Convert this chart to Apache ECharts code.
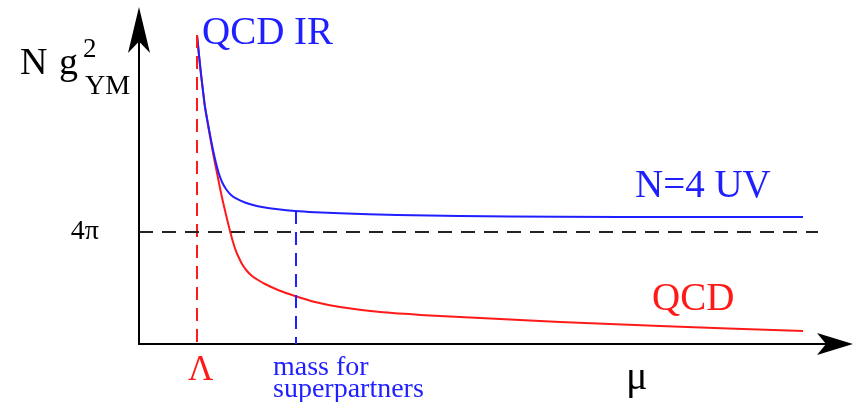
<!DOCTYPE html>
<html>
<head>
<meta charset="utf-8">
<script src="https://cdn.jsdelivr.net/npm/echarts@6/dist/echarts.min.js"></script>
<style>
  html, body { margin: 0; padding: 0; background: #ffffff; }
  #chart { width: 855px; height: 402px; }
</style>
</head>
<body>
<div id="chart"></div>
<script>
// Running coupling N g_YM^2 versus energy scale mu (arbitrary units).
const muN4 = [8.333, 8.621, 8.908, 9.195, 9.483, 9.914, 10.345, 10.632, 10.920, 11.207, 11.494, 11.925, 12.500, 13.218, 14.080, 15.230, 16.379, 17.672, 19.971, 22.414, 25.287, 28.879, 37.069, 46.121, 60.489, 77.730, 95.402];
const couplingN4 = [34.67, 32.42, 30.29, 28.39, 26.59, 24.68, 22.89, 21.77, 20.76, 19.86, 19.07, 18.18, 17.39, 16.72, 16.27, 15.88, 15.60, 15.37, 15.11, 14.92, 14.78, 14.66, 14.47, 14.36, 14.27, 14.25, 14.25];

const muQCD = [8.333, 8.621, 8.908, 9.195, 9.483, 9.914, 10.345, 10.776, 11.207, 11.638, 11.925, 12.356, 12.644, 13.075, 13.506, 13.937, 14.368, 14.799, 15.517, 16.236, 17.098, 18.103, 19.971, 22.414, 25.287, 28.879, 34.626, 41.810, 46.121, 60.489, 74.856, 95.402];
const couplingQCD = [34.67, 32.42, 30.29, 28.39, 26.59, 24.57, 22.66, 20.87, 19.19, 17.50, 16.44, 14.98, 14.02, 12.68, 11.44, 10.43, 9.65, 8.98, 8.19, 7.63, 7.18, 6.73, 6.06, 5.39, 4.71, 4.15, 3.59, 3.20, 3.03, 2.47, 2.02, 1.46];

const LAMBDA = 8.333;         // QCD scale
const M_SUSY = 22.56;         // mass for superpartners
const FOUR_PI = 4 * Math.PI;  // reference coupling
const FOUR_PI_END = 97.56;
const tickLabels = ['4π'];

const SERIF = "'Liberation Serif', 'DejaVu Serif', serif";
const BLUE = '#1f1fff';
const RED = '#ff1a1a';

const pairs = (xs, ys) => xs.map((x, i) => [x, ys[i]]);
const blueAt = (mu) => {
  for (let i = 1; i < muN4.length; i++) {
    if (mu <= muN4[i]) {
      const t = (mu - muN4[i - 1]) / (muN4[i] - muN4[i - 1]);
      return couplingN4[i - 1] + t * (couplingN4[i] - couplingN4[i - 1]);
    }
  }
  return couplingN4[couplingN4.length - 1];
};

const chart = echarts.init(document.getElementById('chart'), null, { renderer: 'canvas' });

const axisCommon = {
  type: 'value',
  min: 0,
  axisLabel: { show: false },
  axisTick: { show: false },
  splitLine: { show: false },
  axisLine: {
    show: true,
    symbol: ['none', 'arrow'],
    lineStyle: { color: '#000', width: 2 }
  }
};

chart.setOption({
  animation: false,
  backgroundColor: '#ffffff',
  grid: { left: 139, right: 20, top: 30, bottom: 58 },
  xAxis: Object.assign({}, axisCommon, {
    max: 100,
    axisLine: Object.assign({}, axisCommon.axisLine, { symbolSize: [16.5, 36], symbolOffset: [0, 18] })
  }),
  yAxis: Object.assign({}, axisCommon, {
    max: 35.23,
    axisLine: Object.assign({}, axisCommon.axisLine, { symbolSize: [16.5, 46], symbolOffset: [0, 23] })
  }),
  series: [
    {
      name: 'QCD',
      type: 'line',
      data: pairs(muQCD, couplingQCD),
      smooth: 0.2,
      showSymbol: false,
      lineStyle: { color: RED, width: 2, join: 'round' },
      z: 3,
      markLine: {
        silent: true,
        symbol: ['none', 'none'],
        label: { show: false },
        lineStyle: { color: RED, width: 2, type: [13, 8], opacity: 1 },
        data: [
          [{ coord: [LAMBDA, couplingQCD[0]] }, { coord: [LAMBDA, 0] }]
        ]
      }
    },
    {
      name: 'N=4',
      type: 'line',
      data: pairs(muN4, couplingN4),
      smooth: 0.2,
      showSymbol: false,
      lineStyle: { color: BLUE, width: 2, join: 'round' },
      z: 4,
      markLine: {
        silent: true,
        symbol: ['none', 'none'],
        label: { show: false },
        lineStyle: { color: BLUE, width: 2, type: [13, 8], opacity: 1 },
        data: [
          [{ coord: [M_SUSY, blueAt(M_SUSY)] }, { coord: [M_SUSY, 0] }]
        ]
      }
    },
    {
      name: 'reference',
      type: 'line',
      data: [],
      markLine: {
        silent: true,
        symbol: ['none', 'none'],
        lineStyle: { color: '#222', width: 2, type: [14, 9], opacity: 1 },
        label: {
          show: true,
          position: 'start',
          distance: 40,
          formatter: tickLabels[0],
          color: '#000',
          fontFamily: SERIF,
          fontSize: 28
        },
        data: [
          [{ coord: [0, FOUR_PI] }, { coord: [FOUR_PI_END, FOUR_PI] }]
        ]
      }
    }
  ],
  graphic: [
    // axis title: N g^2_YM
    { type: 'text', left: 20, top: 45, style: { text: 'N', fontFamily: SERIF, fontSize: 38, fill: '#000' } },
    { type: 'text', left: 59, top: 45, style: { text: 'g', fontFamily: SERIF, fontSize: 38, fill: '#000' } },
    { type: 'text', left: 83, top: 36, style: { text: '2', fontFamily: SERIF, fontSize: 27, fill: '#000' } },
    { type: 'text', left: 85, top: 73, style: { text: 'YM', fontFamily: SERIF, fontSize: 28, fill: '#000' } },
    // curve annotations
    { type: 'text', left: 202, top: 14, style: { text: 'QCD IR', fontFamily: SERIF, fontSize: 39, fill: BLUE } },
    { type: 'text', left: 635, top: 167, style: { text: 'N=4 UV', fontFamily: SERIF, fontSize: 39, fill: BLUE } },
    { type: 'text', left: 652, top: 280, style: { text: 'QCD', fontFamily: SERIF, fontSize: 39, fill: RED } },
    // scale labels below the axis
    { type: 'text', left: 188, top: 353, style: { text: 'Λ', fontFamily: SERIF, fontSize: 35, fill: RED } },
    { type: 'text', left: 273, top: 354, style: { text: 'mass for', fontFamily: SERIF, fontSize: 28, fill: BLUE } },
    { type: 'text', left: 273, top: 376, style: { text: 'superpartners', fontFamily: SERIF, fontSize: 28, fill: BLUE } },
    { type: 'text', left: 626, top: 358, style: { text: 'μ', fontFamily: SERIF, fontSize: 40, fill: '#000' } }
  ]
});
</script>
</body>
</html>
